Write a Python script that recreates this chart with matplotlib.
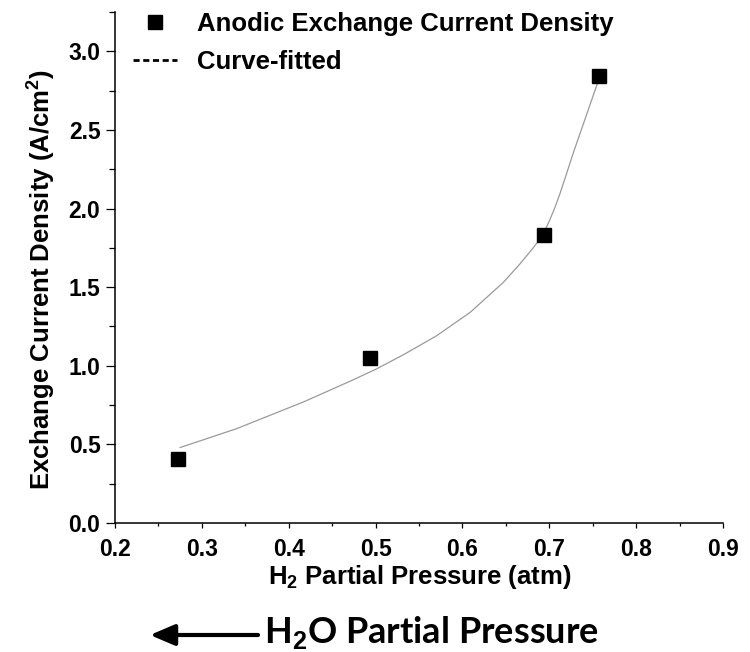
import matplotlib
matplotlib.use("Agg")
import matplotlib.pyplot as plt
from matplotlib.lines import Line2D
from matplotlib.ticker import MultipleLocator, FormatStrFormatter

plt.rcParams['font.family'] = ['Liberation Sans', 'DejaVu Sans']
plt.rcParams['mathtext.fontset'] = 'custom'
plt.rcParams['mathtext.rm'] = 'Liberation Sans:bold'
plt.rcParams['mathtext.it'] = 'Liberation Sans:bold'
plt.rcParams['mathtext.bf'] = 'Liberation Sans:bold'

# measured anodic exchange current density
h2_pressure = [0.273, 0.494, 0.694, 0.757]
current_density = [0.41, 1.05, 1.83, 2.84]

# fitted curve through the measurements
fit_pressure = [0.275, 0.340, 0.417, 0.474, 0.501, 0.532, 0.570, 0.609, 0.647,
                0.665, 0.680, 0.687, 0.694, 0.700, 0.706, 0.712, 0.718, 0.728,
                0.740, 0.750, 0.757]
fit_density = [0.48, 0.60, 0.77, 0.91, 0.98, 1.07, 1.19, 1.34, 1.53,
               1.64, 1.74, 1.79, 1.85, 1.92, 2.00, 2.09, 2.19, 2.36,
               2.55, 2.71, 2.82]

x_ticks = [0.2, 0.3, 0.4, 0.5, 0.6, 0.7, 0.8, 0.9]
y_ticks = [0.0, 0.5, 1.0, 1.5, 2.0, 2.5, 3.0]

W, H = 750, 652
fig = plt.figure(figsize=(W / 100, H / 100), dpi=100)
ax = fig.add_axes([115 / W, 1 - 523 / H, (723 - 115) / W, (523 - 12) / H])

ax.plot(fit_pressure, fit_density, color='#9a9a9a', lw=0.9, zorder=2)
ax.plot(h2_pressure, current_density, ls='none', marker='s', ms=10.5,
        color='black', zorder=3)

ax.set_xlim(0.2, 0.9)
ax.set_ylim(0.0, 3.25)
ax.set_xticks(x_ticks)
ax.set_yticks(y_ticks)
ax.xaxis.set_minor_locator(MultipleLocator(0.05))
ax.yaxis.set_minor_locator(MultipleLocator(0.25))
ax.xaxis.set_major_formatter(FormatStrFormatter('%.1f'))
ax.yaxis.set_major_formatter(FormatStrFormatter('%.1f'))

for side in ('top', 'right'):
    ax.spines[side].set_visible(False)
for side in ('left', 'bottom'):
    ax.spines[side].set_linewidth(1.1)

ax.tick_params(axis='x', which='major', direction='out', length=3.8, width=0.9,
               pad=7, labelsize=16.5)
ax.tick_params(axis='x', which='minor', direction='out', length=2.5, width=0.9)
ax.tick_params(axis='y', which='major', direction='out', length=6.5, width=0.9,
               pad=4, labelsize=16.5)
ax.tick_params(axis='y', which='minor', direction='out', length=4.5, width=0.9)
for lab in ax.get_xticklabels() + ax.get_yticklabels():
    lab.set_fontweight('bold')

fig.text(420 / W, 1 - 577 / H, 'H$_2$ Partial Pressure (atm)',
         ha='center', va='center', fontsize=18.5, fontweight='bold')
fig.text(42 / W, 1 - 280 / H, 'Exchange Current Density (A/cm$^2$)',
         rotation=90, ha='center', va='center', fontsize=18.5,
         fontweight='bold')

handles = [
    Line2D([], [], ls='none', marker='s', ms=9.5, color='black'),
    Line2D([], [], ls=(0, (2.2, 1.3)), lw=2.0, color='black'),
]
labels = ['Anodic Exchange Current Density', 'Curve-fitted']
fig.legend(handles, labels, loc='upper left',
           bbox_to_anchor=(133 / W, 1 - 12 / H), frameon=False,
           prop={'size': 18.5, 'weight': 'bold'}, handlelength=1.7,
           handletextpad=0.8, labelspacing=0.55, borderpad=0,
           borderaxespad=0)

# direction of increasing water vapour partial pressure
ax.annotate('', xy=(150 / W, 1 - 635 / H), xytext=(258 / W, 1 - 635 / H),
            xycoords='figure fraction', textcoords='figure fraction',
            arrowprops=dict(arrowstyle='-|>,head_length=0.75,head_width=0.32',
                            lw=3.0, color='black', shrinkA=0, shrinkB=0,
                            mutation_scale=20),
            annotation_clip=False)
fig.text(264 / W, 1 - 643 / H, 'H$_2$O Partial Pressure', ha='left',
         va='baseline', fontsize=26, fontweight='bold',
         family=['Lato', 'DejaVu Sans'])

fig.savefig('out.png', dpi=100)
